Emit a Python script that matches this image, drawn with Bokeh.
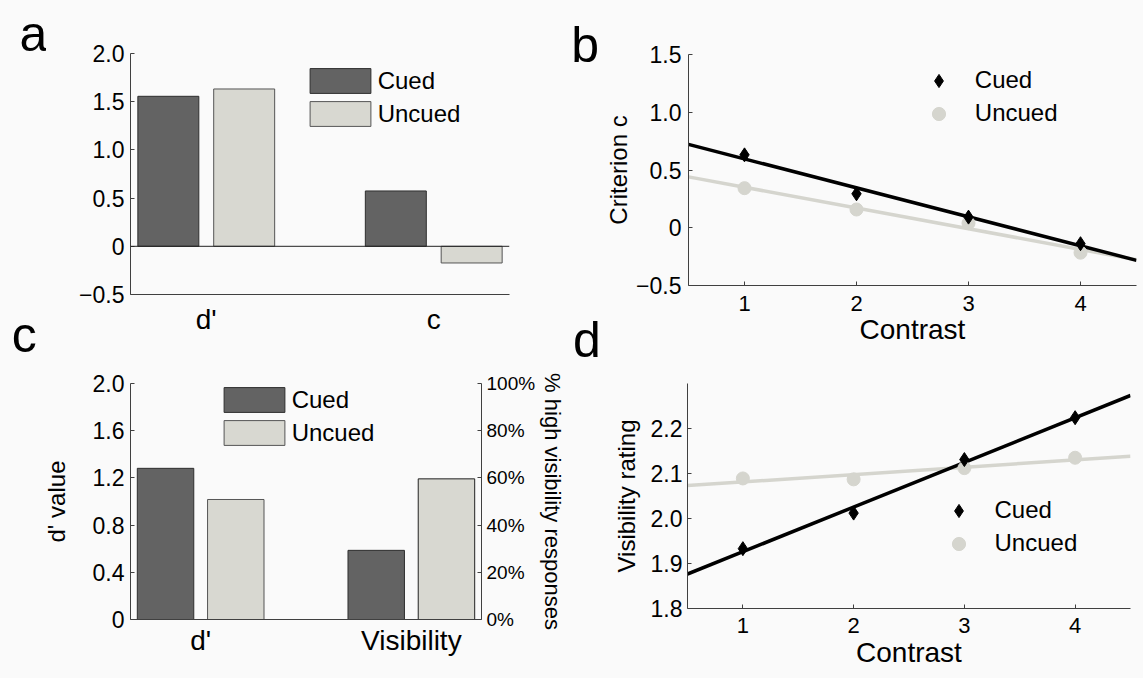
import numpy as np
from bokeh.plotting import figure
from bokeh.models import (ColumnDataSource, Range1d, FixedTicker, Legend, LegendItem,
                          Label, Span, LinearAxis)
from bokeh.transform import dodge
from bokeh.layouts import row, column
from bokeh.embed import file_html
from bokeh.resources import INLINE

# ---------------- data ----------------
# panel a
groups_a = ["d'", "c"]
cued_a = [1.556, 0.574]
uncued_a = [1.632, -0.173]
yticks_a = [-0.5, 0, 0.5, 1.0, 1.5, 2.0]
ylabels_a = ["\u22120.5", "0", "0.5", "1.0", "1.5", "2.0"]

# panel b
contrast = [1, 2, 3, 4]
cued_b = [0.631, 0.294, 0.092, -0.138]
uncued_b = [0.343, 0.158, 0.040, -0.216]
yticks_b = [-0.5, 0, 0.5, 1.0, 1.5]
ylabels_b = ["\u22120.5", "0", "0.5", "1.0", "1.5"]

# panel c
groups_c = ["d'", "Visibility"]
cued_c_dprime = [1.281]
uncued_c_dprime = [1.017]
cued_c_visibility_pct = [29.3]
uncued_c_visibility_pct = [59.6]
yticks_c = [0, 0.4, 0.8, 1.2, 1.6, 2.0]
ylabels_c = ["0", "0.4", "0.8", "1.2", "1.6", "2.0"]
pct_ticks_c = [0, 20, 40, 60, 80, 100]
pct_labels_c = ["0%", "20%", "40%", "60%", "80%", "100%"]

# panel d
cued_d = [1.933, 2.012, 2.131, 2.224]
uncued_d = [2.089, 2.087, 2.112, 2.135]
yticks_d = [1.8, 1.9, 2.0, 2.1, 2.2]
ylabels_d = ["1.8", "1.9", "2.0", "2.1", "2.2"]

panel_letters_left = ["a", "c"]
panel_letters_right = ["b", "d"]

# ---------------- style ----------------
FONT = "Liberation Sans"
BG = "#fafafa"
DARK = "#636363"
DARK_EDGE = "#2e2e2e"
LIGHT = "#d8d8d1"
LIGHT_EDGE = "#555555"
AXIS = "#404040"
GRAYLINE = "#d5d5ce"
BAR_W = 0.268
OFF = 0.1667


def make_fig(w, h, left, right, top, bottom, xr, yr):
    p = figure(width=w, height=h, x_range=xr, y_range=yr, output_backend="svg",
               toolbar_location=None, min_border_left=left, min_border_right=right,
               min_border_top=top, min_border_bottom=bottom, frame_align=False)
    p.background_fill_color = BG
    p.border_fill_color = BG
    p.outline_line_color = None
    p.xgrid.visible = False
    p.ygrid.visible = False
    return p


def letter_strip(w, h, letters, xs, ys):
    s = figure(width=w, height=h, x_range=Range1d(0, w), y_range=Range1d(0, h),
               output_backend="svg", toolbar_location=None, min_border=0,
               x_axis_location=None, y_axis_location=None, frame_align=False)
    s.background_fill_color = BG
    s.border_fill_color = BG
    s.outline_line_color = None
    s.xgrid.visible = False
    s.ygrid.visible = False
    for t, x, y in zip(letters, xs, ys):
        s.add_layout(Label(x=x, y=y, x_units="screen", y_units="screen", text=t,
                           text_font=FONT, text_font_size="50px", text_color="black",
                           text_baseline="alphabetic"))
    return s


def style_axis(ax, tick_size, tick_in, standoff, label_size=24, label_standoff=2):
    ax.axis_line_color = AXIS
    ax.axis_line_width = 1
    ax.major_tick_in = tick_in
    ax.major_tick_out = 0
    ax.major_tick_line_color = AXIS
    ax.minor_tick_line_color = None
    ax.major_label_text_font = FONT
    ax.major_label_text_font_size = f"{tick_size}px"
    ax.major_label_text_color = "black"
    ax.major_label_standoff = standoff
    ax.axis_label_text_font = FONT
    ax.axis_label_text_font_size = f"{label_size}px"
    ax.axis_label_text_font_style = "normal"
    ax.axis_label_text_color = "black"
    ax.axis_label_standoff = label_standoff


def bar_legend(p, items, loc):
    leg = Legend(items=[LegendItem(label=l, renderers=[r]) for l, r in items],
                 location=loc, glyph_width=76, glyph_height=31, spacing=2, padding=0,
                 margin=0, label_standoff=0, border_line_color=None,
                 background_fill_alpha=0, label_text_font=FONT,
                 label_text_font_size="24px", label_text_color="black")
    p.add_layout(leg)


def marker_legend(p, items, loc):
    leg = Legend(items=[LegendItem(label=l, renderers=[r]) for l, r in items],
                 location=loc, glyph_width=33, glyph_height=33, spacing=0, padding=0,
                 margin=0, label_standoff=20, border_line_color=None,
                 background_fill_alpha=0, label_text_font=FONT,
                 label_text_font_size="24px", label_text_color="black")
    p.add_layout(leg)


# ---------------- letter strips (top rows hold all four panel letters) ----------------
strip_left = letter_strip(46, 366, panel_letters_left, [18.9, 11.2], [332.7, 32])
strip_right = letter_strip(34, 372, panel_letters_right, [2.8, 4.4], [327.8, 32.5])

# ---------------- panel a ----------------
pos_a = list(range(1, len(groups_a) + 1))
fa = make_fig(522, 366, 84, 59, 53, 72, Range1d(0.667, 2.333), Range1d(-0.5, 2.0))
src_a = ColumnDataSource(dict(x=pos_a, cued=cued_a, uncued=uncued_a))
ra1 = fa.vbar(x=dodge("x", -OFF, range=fa.x_range), top="cued", bottom=0, width=BAR_W,
              source=src_a, fill_color=DARK, line_color=DARK_EDGE, line_width=1)
ra2 = fa.vbar(x=dodge("x", OFF, range=fa.x_range), top="uncued", bottom=0, width=BAR_W,
              source=src_a, fill_color=LIGHT, line_color=LIGHT_EDGE, line_width=1)
fa.add_layout(Span(location=0, dimension="width", line_color="#222222", line_width=1))
style_axis(fa.yaxis[0], 23, 4, 6)
fa.yaxis[0].ticker = FixedTicker(ticks=yticks_a)
fa.yaxis[0].major_label_overrides = dict(zip(yticks_a, ylabels_a))
style_axis(fa.xaxis[0], 28, 0, 9)
fa.xaxis[0].ticker = FixedTicker(ticks=pos_a)
fa.xaxis[0].major_label_overrides = dict(zip(pos_a, groups_a))
bar_legend(fa, [("Cued", ra1), ("Uncued", ra2)], (171.7, 164.9))

# ---------------- panel b ----------------
fb = make_fig(541, 372, 84, 7, 54, 87, Range1d(0.5, 4.5), Range1d(-0.5, 1.5))
xfit_b = np.array([fb.x_range.start, fb.x_range.end])
fb.line(xfit_b, np.polyval(np.polyfit(contrast, uncued_b, 1), xfit_b),
        line_color=GRAYLINE, line_width=3.5)
fb.line(xfit_b, np.polyval(np.polyfit(contrast, cued_b, 1), xfit_b),
        line_color="black", line_width=3.5)
rb2 = fb.scatter(contrast, uncued_b, marker="circle", size=13, fill_color=GRAYLINE,
                 line_color=GRAYLINE)
rb1 = fb.scatter(contrast, cued_b, marker="diamond", size=14, fill_color="black",
                 line_color="black")
style_axis(fb.yaxis[0], 23, 4, 7, 24, 1)
fb.yaxis[0].ticker = FixedTicker(ticks=yticks_b)
fb.yaxis[0].major_label_overrides = dict(zip(yticks_b, ylabels_b))
fb.yaxis[0].axis_label = "Criterion c"
style_axis(fb.xaxis[0], 22, 4, 10, 28, 0)
fb.xaxis[0].ticker = FixedTicker(ticks=contrast)
fb.xaxis[0].axis_label = "Contrast"
marker_legend(fb, [("Cued", rb1), ("Uncued", rb2)], (233.8, 155.2))

# ---------------- panel c ----------------
pos_c = list(range(1, len(groups_c) + 1))
fc = make_fig(568, 312, 130, 82, 17, 59, Range1d(0.667, 2.333), Range1d(0, 2.0))
fc.extra_y_ranges = {"pct": Range1d(0, 100)}
src_c1 = ColumnDataSource(dict(x=pos_c[:1], cued=cued_c_dprime, uncued=uncued_c_dprime))
src_c2 = ColumnDataSource(dict(x=pos_c[1:], cued=cued_c_visibility_pct,
                               uncued=uncued_c_visibility_pct))
rc1 = fc.vbar(x=dodge("x", -OFF, range=fc.x_range), top="cued", bottom=0, width=BAR_W,
              source=src_c1, fill_color=DARK, line_color=DARK_EDGE, line_width=1)
rc2 = fc.vbar(x=dodge("x", OFF, range=fc.x_range), top="uncued", bottom=0, width=BAR_W,
              source=src_c1, fill_color=LIGHT, line_color=LIGHT_EDGE, line_width=1)
fc.vbar(x=dodge("x", -OFF, range=fc.x_range), top="cued", bottom=0, width=BAR_W,
        source=src_c2, y_range_name="pct", fill_color=DARK, line_color=DARK_EDGE,
        line_width=1)
fc.vbar(x=dodge("x", OFF, range=fc.x_range), top="uncued", bottom=0, width=BAR_W,
        source=src_c2, y_range_name="pct", fill_color=LIGHT, line_color="#222222",
        line_width=1)
style_axis(fc.yaxis[0], 23, 4, 6, 24, 20)
fc.yaxis[0].ticker = FixedTicker(ticks=yticks_c)
fc.yaxis[0].major_label_overrides = dict(zip(yticks_c, ylabels_c))
fc.yaxis[0].axis_label = "d' value"
style_axis(fc.xaxis[0], 28, 0, 5)
fc.xaxis[0].ticker = FixedTicker(ticks=pos_c)
fc.xaxis[0].major_label_overrides = dict(zip(pos_c, groups_c))
rax = LinearAxis(y_range_name="pct", axis_label="% high visibility responses")
style_axis(rax, 19, 4, 5, 22, 2)
rax.ticker = FixedTicker(ticks=pct_ticks_c)
rax.major_label_overrides = dict(zip(pct_ticks_c, pct_labels_c))
fc.add_layout(rax, "right")
bar_legend(fc, [("Cued", rc1), ("Uncued", rc2)], (85.7, 170.6))

# ---------------- panel d ----------------
fd = make_fig(575, 306, 119, 13, 11, 70, Range1d(0.5, 4.5), Range1d(1.8, 2.3))
xfit_d = np.array([fd.x_range.start, fd.x_range.end])
fd.line(xfit_d, np.polyval(np.polyfit(contrast, uncued_d, 1), xfit_d),
        line_color=GRAYLINE, line_width=3.5)
fd.line(xfit_d, np.polyval(np.polyfit(contrast, cued_d, 1), xfit_d),
        line_color="black", line_width=3.5)
rd2 = fd.scatter(contrast, uncued_d, marker="circle", size=13, fill_color=GRAYLINE,
                 line_color=GRAYLINE)
rd1 = fd.scatter(contrast, cued_d, marker="diamond", size=14, fill_color="black",
                 line_color="black")
style_axis(fd.yaxis[0], 23, 4, 5, 24, 8)
fd.yaxis[0].ticker = FixedTicker(ticks=yticks_d)
fd.yaxis[0].major_label_overrides = dict(zip(yticks_d, ylabels_d))
fd.yaxis[0].axis_label = "Visibility rating"
style_axis(fd.xaxis[0], 22, 4, 9, 28, 1)
fd.xaxis[0].ticker = FixedTicker(ticks=contrast)
fd.xaxis[0].axis_label = "Contrast"
marker_legend(fd, [("Cued", rd1), ("Uncued", rd2)], (254.5, 48.2))

left_col = column(row(strip_left, fa), fc)
right_col = column(row(strip_right, fb), fd)
layout = row(left_col, right_col)
html = file_html(layout, INLINE, title="chart")
html = html.replace("<head>", "<head><style>body{margin:0;background:#fafafa;}</style>", 1)
open("out.html", "w").write(html)
